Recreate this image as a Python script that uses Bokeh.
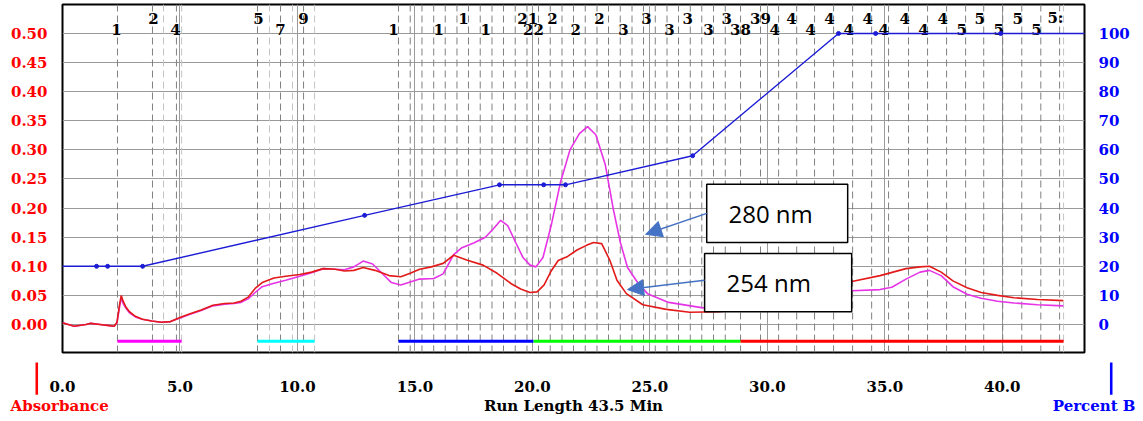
from bokeh.plotting import figure
from bokeh.models import (Range1d, LinearAxis, FixedTicker, NumeralTickFormatter,
                          BoxAnnotation, Label, Arrow, NormalHead, Title)
from bokeh.core.properties import value
from bokeh.embed import file_html
from bokeh.resources import INLINE

# ---------------- data ----------------
time_254 = [0.0, 0.5, 1.0, 1.2, 1.6, 2.0, 2.2, 2.32, 2.42, 2.5, 2.58, 2.7, 2.85, 3.1, 3.4, 3.8, 4.2, 4.6,
            5.0, 5.4, 5.9, 6.4, 6.9, 7.3, 7.6, 7.9, 8.2, 8.5, 9.0, 9.5, 10.1, 10.6, 11.1, 11.6, 12.0, 12.4,
            12.8, 13.3, 13.9, 14.4, 14.8, 15.2, 15.7, 16.2, 16.65, 17.2, 17.9, 18.5, 19.1, 19.5, 19.9, 20.2,
            20.5, 20.8, 21.1, 21.5, 21.9, 22.3, 22.6, 22.95, 23.3, 23.6, 24.0, 24.7, 25.7, 26.7, 27.9, 28.9,
            29.8, 30.6, 31.5, 32.5, 33.6, 34.8, 35.9, 36.5, 36.9, 37.4, 37.9, 38.5, 39.1, 39.8, 40.5, 41.5, 42.6]
abs_254 = [0.003, -0.003, 0.000, 0.002, 0.000, -0.002, -0.003, 0.004, 0.032, 0.050, 0.040, 0.030, 0.022,
           0.014, 0.009, 0.006, 0.004, 0.005, 0.012, 0.018, 0.025, 0.033, 0.036, 0.037, 0.040, 0.047, 0.062,
           0.072, 0.080, 0.083, 0.086, 0.090, 0.096, 0.095, 0.092, 0.093, 0.098, 0.093, 0.084, 0.082, 0.088,
           0.095, 0.099, 0.105, 0.119, 0.111, 0.102, 0.088, 0.070, 0.061, 0.055, 0.056, 0.068, 0.092, 0.110,
           0.117, 0.128, 0.136, 0.141, 0.139, 0.110, 0.076, 0.053, 0.034, 0.026, 0.021, 0.022, 0.025, 0.030,
           0.040, 0.052, 0.063, 0.074, 0.084, 0.096, 0.099, 0.100, 0.090, 0.075, 0.063, 0.055, 0.050, 0.046,
           0.043, 0.041]

time_280 = [0.0, 0.5, 1.0, 1.2, 1.6, 2.0, 2.2, 2.32, 2.42, 2.5, 2.58, 2.7, 2.85, 3.1, 3.4, 3.8, 4.2, 4.6,
            5.0, 5.4, 5.9, 6.4, 6.9, 7.3, 7.6, 7.9, 8.2, 8.5, 9.0, 9.5, 10.1, 10.6, 11.1, 11.6, 12.0, 12.4,
            12.8, 13.2, 13.6, 14.0, 14.4, 14.8, 15.2, 15.8, 16.2, 16.65, 17.0, 17.5, 18.0, 18.35, 18.65, 18.95,
            19.3, 19.6, 19.9, 20.15, 20.45, 20.8, 21.2, 21.6, 22.0, 22.35, 22.7, 23.1, 23.45, 23.75, 24.05,
            24.5, 24.9, 25.8, 27.2, 28.5, 29.5, 30.5, 31.5, 32.5, 33.6, 34.8, 35.3, 35.9, 36.5, 36.9, 37.4,
            37.9, 38.5, 39.1, 39.8, 40.5, 41.5, 42.6]
abs_280 = [0.003, -0.003, 0.000, 0.002, 0.000, -0.002, -0.003, 0.003, 0.028, 0.046, 0.036, 0.028, 0.020,
           0.013, 0.009, 0.006, 0.004, 0.005, 0.011, 0.017, 0.024, 0.032, 0.035, 0.036, 0.038, 0.044, 0.055,
           0.065, 0.071, 0.076, 0.083, 0.089, 0.096, 0.095, 0.094, 0.099, 0.109, 0.104, 0.088, 0.072, 0.068,
           0.073, 0.078, 0.079, 0.087, 0.120, 0.132, 0.140, 0.150, 0.165, 0.179, 0.170, 0.140, 0.115, 0.102,
           0.099, 0.115, 0.170, 0.245, 0.300, 0.328, 0.340, 0.326, 0.275, 0.197, 0.140, 0.098, 0.071, 0.053,
           0.038, 0.029, 0.026, 0.026, 0.030, 0.040, 0.050, 0.058, 0.060, 0.064, 0.078, 0.090, 0.093, 0.084,
           0.065, 0.052, 0.045, 0.040, 0.037, 0.034, 0.032]

grad_time = [0.0, 1.45, 1.92, 3.41, 12.86, 18.60, 20.48, 21.41, 26.82, 33.03, 34.61, 39.93, 43.5]
grad_pct = [20, 20, 20, 20, 37.5, 48, 48, 48, 58, 100, 100, 100, 100]

fraction_dark = [2.34, 3.83, 4.85, 8.30, 9.28, 10.26,
                 14.30, 14.80, 15.30, 15.80, 16.29, 16.79, 17.28, 17.78, 18.28, 18.77, 19.27, 19.77,
                 20.26, 20.76, 21.26, 21.75, 22.25, 22.75, 23.24, 23.74, 24.24, 24.73, 25.23, 25.73,
                 26.22, 26.72, 27.21, 27.71, 28.21, 28.86, 29.71, 30.48, 31.25, 32.01, 32.82, 33.63,
                 34.44, 35.16, 36.01, 36.82, 37.63, 38.44, 39.21, 40.02, 40.83, 41.64, 42.44]
fraction_light = [4.30, 5.07, 8.81, 9.79, 10.73, 42.61]

label_time = [2.30, 3.87, 4.81, 8.34, 9.28, 10.26, 14.09, 16.01, 17.07, 18.01, 19.80, 20.05, 20.86,
              21.84, 22.86, 23.88, 24.86, 25.84, 26.61, 27.50, 28.27, 28.86, 29.71, 30.31, 31.03, 31.84,
              32.65, 33.46, 34.27, 34.95, 35.85, 36.65, 37.46, 38.27, 39.04, 39.85, 40.66, 41.46, 42.27]
label_text = ["1", "2", "4", "5", "7", "9", "1", "1", "1", "1", "21", "22", "2",
              "2", "2", "3", "3", "3", "3", "3", "3", "38", "39", "4", "4", "4",
              "4", "4", "4", "4", "4", "4", "4", "5", "5", "5", "5", "5", "5:"]
label_row = ["lo", "up", "lo", "up", "lo", "up", "lo", "lo", "up", "lo", "up", "lo", "up",
             "lo", "up", "lo", "up", "lo", "up", "lo", "up", "lo", "up", "lo", "up", "lo",
             "up", "lo", "up", "lo", "up", "lo", "up", "lo", "up", "lo", "up", "lo", "up"]

collect_start = [2.34, 8.30, 14.30, 20.05, 28.86]
collect_end = [5.07, 10.73, 20.05, 28.86, 42.61]
collect_color = ["#FF00FF", "#00FFFF", "#0000FF", "#00FF00", "#FF0000"]

x_ticks = [0, 5, 10, 15, 20, 25, 30, 35, 40]
y_ticks = [0.0, 0.05, 0.10, 0.15, 0.20, 0.25, 0.30, 0.35, 0.40, 0.45, 0.50]
pct_ticks = [0, 10, 20, 30, 40, 50, 60, 70, 80, 90, 100]

# ---------------- figure ----------------
W, H = 1143, 421
YMIN, YMAX = -0.0481, 0.5498
p = figure(width=W, height=H, output_backend="svg", toolbar_location=None,
           x_range=Range1d(0, 43.5), y_range=Range1d(YMIN, YMAX),
           min_border_left=62, min_border_right=59, min_border_top=4, min_border_bottom=69)
p.extra_y_ranges = {"pct": Range1d(YMIN * 200, YMAX * 200)}
p.outline_line_color = "black"
p.outline_line_width = 2
p.background_fill_color = "white"
p.border_fill_color = "white"

SERIF = "DejaVu Serif"

def style_axis(ax, color, standoff):
    ax.axis_line_color = None
    ax.major_tick_line_color = None
    ax.minor_tick_line_color = None
    ax.major_label_text_color = color
    ax.major_label_text_font = SERIF
    ax.major_label_text_font_style = "bold"
    ax.major_label_text_font_size = "15px"
    ax.major_label_standoff = standoff

xa = p.xaxis[0]
xa.ticker = FixedTicker(ticks=x_ticks)
xa.formatter = NumeralTickFormatter(format="0.0")
style_axis(xa, "black", 22)
xa.axis_label = "Run Length 43.5 Min"
xa.axis_label_text_font = SERIF
xa.axis_label_text_font_style = "bold"
xa.axis_label_text_font_size = "15px"
xa.axis_label_text_color = "black"
xa.axis_label_standoff = 2

ya = p.yaxis[0]
ya.ticker = FixedTicker(ticks=y_ticks)
ya.formatter = NumeralTickFormatter(format="0.00")
style_axis(ya, "#FF0000", 9)

ra = LinearAxis(y_range_name="pct", ticker=FixedTicker(ticks=pct_ticks))
style_axis(ra, "#0000FF", 8)
p.add_layout(ra, "right")

p.xgrid.grid_line_color = "#9a9a9a"
p.ygrid.grid_line_color = "#9a9a9a"
p.xgrid.grid_line_width = 1
p.ygrid.grid_line_width = 1

# fraction marker lines
p.segment(x0=fraction_light, y0=[YMIN] * len(fraction_light), x1=fraction_light,
          y1=[YMAX] * len(fraction_light), line_color="#c4c4c4", line_width=1, line_dash="7 4")
p.segment(x0=fraction_dark, y0=[YMIN] * len(fraction_dark), x1=fraction_dark,
          y1=[YMAX] * len(fraction_dark), line_color="#808080", line_width=1, line_dash="7 4")

# fraction labels
lab_y = [0.5258 if r == "up" else 0.5069 for r in label_row]
p.text(x=label_time, y=lab_y, text=label_text, text_font=value(SERIF), text_font_style="bold",
       text_font_size="15px", text_align="center", text_baseline="alphabetic", text_color="black")

# collection bars
p.segment(x0=collect_start, y0=[-0.0287] * 5, x1=collect_end, y1=[-0.0287] * 5,
          line_color=collect_color, line_width=3)

# traces
p.line(time_280, abs_280, line_color="#E633E6", line_width=1.6)
p.line(time_254, abs_254, line_color="#E31A1A", line_width=1.6)

# gradient
g_y = [v / 200.0 for v in grad_pct]
p.line(grad_time, g_y, line_color="#1C1CD6", line_width=1.4)
p.scatter(grad_time[1:-1], g_y[1:-1], size=4, color="#1C1CD6")

# annotation boxes
for (l, r, b, t, txt, tx, ty) in [(27.42, 33.42, 0.141, 0.241, "280 nm", 30.14, 0.1907),
                                  (27.33, 33.59, 0.022, 0.122, "254 nm", 30.06, 0.0722)]:
    p.add_layout(BoxAnnotation(left=l, right=r, bottom=b, top=t, fill_color="white", fill_alpha=1.0,
                               line_color="black", line_width=1.5, line_alpha=1.0))
    p.add_layout(Label(x=tx, y=ty, text=txt, text_align="center", text_baseline="middle",
                       text_font="Open Sans", text_font_size="24px", text_color="black"))

for (xs, ys, xe, ye) in [(27.42, 0.191, 24.82, 0.155), (27.33, 0.076, 24.05, 0.060)]:
    p.add_layout(Arrow(x_start=xs, y_start=ys, x_end=xe, y_end=ye, line_color="#4472C4",
                       line_width=1.5,
                       end=NormalHead(size=16, fill_color="#4472C4", line_color="#4472C4")))

# axis captions in the bottom panel, pulled up into the axis-label row
t_abs = Title(text="Absorbance", align="left", offset=-52, standoff=-42, vertical_align="top",
              text_color="#FF0000", text_font=SERIF, text_font_style="bold", text_font_size="15px")
p.add_layout(t_abs, "below")
t_pct = Title(text="Percent B", align="right", offset=-51, standoff=-42, vertical_align="top",
              text_color="#0000FF", text_font=SERIF, text_font_style="bold", text_font_size="15px")
p.add_layout(t_pct, "below")

# short vertical marker bars above the captions
for (al, off, col) in [("left", -27, "#FF0000"), ("right", -28, "#0000FF")]:
    p.add_layout(Title(text=" ", align=al, offset=off, standoff=-110, vertical_align="top",
                       text_font_size="2px", text_color=col, background_fill_color=col,
                       background_fill_alpha=1.0, padding=(1, 15)), "below")

open("out.html", "w").write(file_html(p, INLINE))
